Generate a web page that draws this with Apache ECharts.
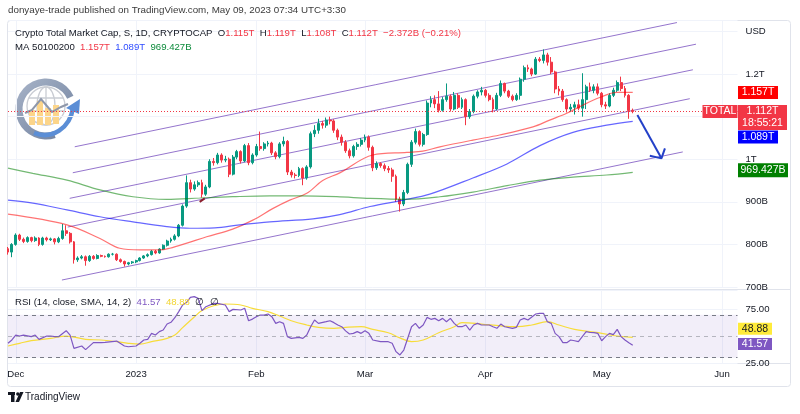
<!DOCTYPE html>
<html>
<head>
<meta charset="utf-8">
<script src="https://cdn.jsdelivr.net/npm/echarts@6/dist/echarts.min.js"></script>
<style>html,body{margin:0;padding:0;background:#fff}#c{width:800px;height:414px}</style>
</head>
<body>
<div id="c"></div>
<script>
// ---------- DATA ----------
const firstDay = [2022, 10, 29];           // Nov 29, 2022 (first candle)
const dayCount = 189;                      // category slots shown on the time axis (to Jun 5)
const monthTickLabels = {12:'Dec', 1:'2023', 2:'Feb', 3:'Mar', 4:'Apr', 5:'May', 6:'Jun'};
const priceTickLabels = {700:'700B', 800:'800B', 900:'900B', 1000:'1T', 1100:'', 1200:'1.2T', 1300:'USD'};

// daily candles, values in billions USD
const opens = [790,782,800,822,812,807,816,809,815,800,815,811,813,806,814,832,826,806,764,768,
771,762,772,767,774,772,771,777,777,764,760,754,757,759,762,768,773,776,784,780,
789,798,808,812,820,845,890,945,930,940,945,918,935,995,992,1010,998,1000,965,1005,
1018,996,1032,992,1010,1030,1025,1036,1038,1015,1006,1036,1042,970,963,962,978,956,982,1060,
1068,1084,1080,1092,1090,1068,1052,1040,1020,1008,1030,1035,1045,1052,1028,980,990,985,978,975,
960,906,895,922,988,1040,1065,1035,1058,1132,1140,1130,1115,1140,1148,1118,1150,1122,1140,1100,
1112,1148,1158,1162,1150,1140,1118,1150,1178,1160,1148,1140,1150,1188,1215,1212,1200,1235,1232,1245,
1228,1205,1165,1160,1140,1118,1122,1128,1120,1140,1170,1162,1170,1155,1128,1125,1150,1162,1180,1166,
1150,1115];
const closes = [782,800,822,812,807,816,809,815,800,815,811,813,806,814,832,826,806,764,768,771,
762,772,767,774,772,771,777,777,764,760,754,757,759,762,768,773,776,784,780,789,
798,808,812,820,845,890,945,930,940,945,918,935,995,992,1010,998,1000,965,1005,1018,
996,1032,992,1010,1030,1025,1036,1038,1015,1006,1036,1042,970,963,962,978,956,982,1060,1068,
1084,1080,1092,1090,1068,1052,1040,1020,1008,1030,1035,1045,1052,1028,980,990,985,978,975,960,
906,895,922,988,1040,1065,1035,1058,1132,1140,1130,1115,1140,1148,1118,1150,1122,1140,1100,1112,
1148,1158,1162,1150,1140,1118,1150,1178,1160,1148,1140,1150,1188,1215,1212,1200,1235,1232,1245,1228,
1205,1165,1160,1140,1118,1122,1128,1120,1140,1170,1162,1170,1155,1128,1125,1150,1162,1180,1166,1150,
1114.4,1112];
const highs = [794,803,826,825,816,819,818,819,817,818,818,816,815,818,848,845,829,808,772,775,
774,775,775,777,776,774,779,780,779,767,762,759,761,764,770,775,779,787,787,791,
800,811,816,824,848,894,962,952,948,950,952,940,1000,1003,1015,1014,1008,1004,1010,1022,
1021,1036,1038,1014,1036,1065,1040,1043,1041,1019,1040,1053,1045,975,968,982,981,986,1065,1080,
1095,1090,1098,1100,1094,1072,1058,1045,1025,1034,1040,1050,1058,1056,1032,995,993,990,984,980,
964,912,928,992,1045,1072,1068,1062,1138,1148,1150,1160,1146,1178,1152,1158,1155,1145,1143,1118,
1152,1162,1170,1165,1155,1145,1156,1185,1180,1163,1152,1155,1192,1220,1222,1215,1240,1240,1258,1250,
1240,1208,1172,1165,1143,1130,1135,1140,1202,1175,1180,1176,1178,1158,1135,1155,1168,1185,1194,1172,
1153,1119];
const lows = [776,770,797,808,803,804,805,806,796,797,807,808,800,803,811,820,802,755,759,765,
750,759,764,765,770,769,769,774,761,757,748,751,754,756,760,766,770,774,777,778,
787,795,804,809,817,842,886,922,926,935,910,914,932,985,988,992,993,958,962,1000,
990,993,986,988,1006,1020,1020,1030,1010,1000,1002,1030,963,957,955,958,939,952,978,1052,
1060,1072,1074,1082,1062,1045,1032,1015,1002,1004,1022,1030,1040,1020,972,975,980,972,968,947,
900,877,890,918,982,1035,1030,1030,1055,1122,1120,1110,1112,1135,1112,1115,1118,1118,1080,1095,
1108,1143,1150,1145,1136,1110,1115,1146,1155,1144,1136,1137,1140,1182,1205,1195,1198,1228,1225,1220,
1200,1155,1150,1135,1110,1112,1105,1115,1100,1118,1158,1155,1150,1122,1118,1122,1146,1158,1160,1145,
1095,1108];

// moving averages (day offset from first candle, value)
const ma50Days = [0,15.2,23.7,28.8,34,39.1,41.7,46.1,51.2,57.9,63.1,68.2,72.6,77,81.1,85.5,94,102.8,106.9,111.3,119.8,126.7,135.3,139.6,144,148.1,152.5,156.9,161];
const ma50Vals = [871,846,814,791,787,787,791,803,818,836,857,884,904,920,950,968,1010,1016,1019,1029,1045,1057,1076,1092,1108,1127,1145,1157,1157];
const ma100Days = [0,6.4,15.2,23.7,32.2,40.9,46.9,53.3,59.7,67.5,78.6,85.5,93.3,101.8,108.7,119.8,128.6,137.1,145.6,154.3,161];
const ma100Vals = [904,897,881,865,853,842,838,839,846,853,860,870,889,904,918,956,989,1032,1063,1080,1089];
const ma200Days = [0,6.4,15.2,23.7,32.2,40.9,49.4,57.9,67.5,75.2,84.7,93.3,102.3,111.3,119.8,128.6,137.1,145.6,154.3,161];
const ma200Vals = [979,967,951,928,912,906,909,912,914,914,912,908,906,912,923,938,951,958,963,969.4];

// drawn parallel channel lines (start / end day offset and value)
const chanStartDay = [17.2,16.7,15.9,15.4,13.9];
const chanStartVal = [1029.3,968.3,908.2,840.8,716.4];
const chanEndDay = [172.4,177.3,176.5,175.7,173.9];
const chanEndVal = [1321,1270.2,1210.1,1142.2,1017.2];
// drawn arrow and small stroke
const arrowDays = [162.2,168.4];  const arrowVals = [1103.8,1002.1];
const headDays = [165.4,168.4,169.3]; const headVals = [1008.2,1002.1,1025.6];
const strokeDays = [49.4,50.7]; const strokeVals = [900,908];

// RSI (14) and its SMA (14)
const rsiDays = [0,1,2,3,4,6,7,8,10,11,12,13,15,16,17,19,20,22,24,25,28,30,31,33,34,35,36,37,38,39,40,41,42,43,44,45,46,47,48,49,50,51,53,54,56,57,58,60,61,62,63,64,65,66,67,68,69,70,71,72,73,75,76,77,78,79,80,82,83,84,85,86,87,88,89,90,91,92,93,94,96,98,99,100,101,102,104,105,106,107,108,109,110,111,112,113,114,115,116,117,118,119,120,121,122,124,125,126,127,128,130,131,132,133,134,136,137,138,139,140,141,142,143,144,145,146,147,148,149,150,151,152,153,154,155,156,157,158,159,160,161];
const rsiVals = [43.4,46.5,51.1,50.2,51.1,49.6,51.1,47.1,50.2,50.2,49.6,49.6,55.2,51.0,38.7,40.9,37.5,44.0,44.0,44.3,45.5,40.9,40.2,40.9,43.4,46.5,47.1,52.7,51.1,54.3,55.8,61.4,63.0,67.3,73.0,79.2,81.5,86.3,87.0,85.4,73.9,77.6,80.7,80.7,79.2,73.0,75.1,74.5,76.1,64.5,66.0,68.3,69.8,69.8,70.8,68.3,62.0,63.6,62.0,49.6,48.0,49.0,48.0,51.1,58.9,65.2,62.0,63.6,64.5,62.7,60.5,58.9,55.0,52.1,52.7,54.3,52.7,55.2,52.7,46.5,44.9,44.9,43.4,35.6,32.5,37.1,58.9,62.0,57.4,60.5,67.6,65.8,66.7,64.5,66.7,63.6,66.7,62.0,58.9,58.9,60.5,55.8,60.5,62.0,60.5,60.5,58.9,57.4,61.4,58.9,57.4,58.3,65.2,66.7,65.2,70.8,71.4,71.4,63.6,62.0,52.7,49.6,44.0,44.0,46.5,45.8,44.9,49.6,54.3,53.5,53.3,52.7,45.8,49.6,52.7,51.5,56.4,49.6,46.5,44.0,41.57];
const smaDays = [0,3,6,11,15,20,24,28,31,34,37,41,43,45,48,50,53,56,60,63,67,70,73,77,80,84,87,91,94,98,101,104,107,111,115,117,122,127,131,135,139,142,146,150,153,157,161];
const smaVals = [40.9,43.4,45.9,48,50.2,47.1,46.5,44.9,43.4,42.7,44.9,48,51.1,58,68,74,78.5,80.1,79.2,76.1,73,68.9,64.5,60.5,58.3,57.4,58.3,58.9,56.4,53.3,48.5,45,46.5,53.3,58.9,62.7,61.4,59.6,58.9,60.5,63.6,60.5,56.4,54.3,52.7,50.2,48.88];

// last values shown in the scale boxes
const lastClose = 1112, lastMA50 = 1157, lastMA100 = 1089, lastMA200 = 969.427, lastRsi = 41.57, lastSma = 48.88;

// ---------- BUILD ----------
const FONT = 'Liberation Sans, Arial, sans-serif';
const FS = 9.6;
const dates = [];
for (let k = 0; k < dayCount; k++) {
  const d = new Date(Date.UTC(firstDay[0], firstDay[1], firstDay[2] + k));
  dates.push(d.toISOString().slice(0, 10));
}
const lastIdx = dayCount - 1;
const isMonthStart = (i, v) => v.slice(8) === '01';
const pairs = (xs, ys) => xs.map((x, i) => [x, ys[i]]);
const candles = opens.map((o, i) => [o, closes[i], lows[i], highs[i]]);

const boxLabel = (txt, color) => ({show: true, position: 'inside', formatter: txt, color: color || '#fff',
  fontSize: 10.5, lineHeight: 12, fontFamily: FONT, fontWeight: 'normal'});
const box = (coord, w, h, dx, dy, bg, txt, fg) => ({coord, symbol: 'rect', symbolSize: [w, h],
  symbolOffset: [dx, dy], itemStyle: {color: bg}, label: boxLabel(txt, fg)});
const tok = (color) => ({fill: color, fontSize: FS, fontFamily: FONT});

const series = [
  {
    type: 'candlestick', name: 'TOTAL', xAxisIndex: 0, yAxisIndex: 0, data: candles,
    barWidth: 2.4, clip: false,
    itemStyle: {color: '#089981', color0: '#f23645', borderColor: '#089981', borderColor0: '#f23645', borderWidth: 1},
    markLine: {silent: true, symbol: ['none', 'none'], animation: false, label: {show: false},
      data: [{yAxis: lastClose, lineStyle: {color: '#f23645', type: [1, 2], width: 1}}]},
    markPoint: {silent: true, animation: false, z: 10, data: [
      box([lastIdx, lastClose], 49, 25, 25, 6, '#f23645', '1.112T\n18:55:21'),
      box([lastIdx, lastClose], 35, 13, -17.5, 0, '#f23645', 'TOTAL')
    ]}
  },
  {type: 'line', name: 'MA50', xAxisIndex: 2, yAxisIndex: 0, data: pairs(ma50Days, ma50Vals), smooth: 0.35,
   showSymbol: false, lineStyle: {color: 'rgba(255,0,0,0.55)', width: 1.2}, z: 3,
   markPoint: {silent: true, animation: false, data: [box([lastIdx, lastMA50], 40, 13, 20.5, 0, '#ff0000', '1.157T')]}},
  {type: 'line', name: 'MA100', xAxisIndex: 2, yAxisIndex: 0, data: pairs(ma100Days, ma100Vals), smooth: 0.35,
   showSymbol: false, lineStyle: {color: 'rgba(0,0,255,0.6)', width: 1.2}, z: 3,
   markPoint: {silent: true, animation: false, data: [box([lastIdx, lastMA100], 40, 13, 20.5, 15.7, '#0000ff', '1.089T')]}},
  {type: 'line', name: 'MA200', xAxisIndex: 2, yAxisIndex: 0, data: pairs(ma200Days, ma200Vals), smooth: 0.35,
   showSymbol: false, lineStyle: {color: 'rgba(0,128,0,0.55)', width: 1.2}, z: 3,
   markPoint: {silent: true, animation: false, data: [box([lastIdx, lastMA200], 50, 14, 25.5, -2, '#008000', '969.427B')]}}
];
chanStartDay.forEach((d, i) => series.push({type: 'line', xAxisIndex: 2, yAxisIndex: 0, showSymbol: false, silent: true, z: 2,
  data: [[d, chanStartVal[i]], [chanEndDay[i], chanEndVal[i]]], lineStyle: {color: '#9575cd', width: 1}}));
series.push({type: 'line', xAxisIndex: 2, yAxisIndex: 0, showSymbol: false, silent: true, z: 4,
  data: pairs(arrowDays, arrowVals), lineStyle: {color: '#2340c8', width: 2}});
series.push({type: 'line', xAxisIndex: 2, yAxisIndex: 0, showSymbol: false, silent: true, z: 4,
  data: pairs(headDays, headVals), lineStyle: {color: '#2340c8', width: 2}});
series.push({type: 'line', xAxisIndex: 2, yAxisIndex: 0, showSymbol: false, silent: true, z: 4,
  data: pairs(strokeDays, strokeVals), lineStyle: {color: '#8b1e2d', width: 2}});
series.push({type: 'line', name: 'RSI', xAxisIndex: 3, yAxisIndex: 1, data: pairs(rsiDays, rsiVals), showSymbol: false,
  lineStyle: {color: '#7e57c2', width: 1.2}, z: 4,
  markArea: {silent: true, itemStyle: {color: 'rgba(126,87,194,0.1)'}, data: [[{yAxis: 30}, {yAxis: 70}]]},
  markLine: {silent: true, symbol: ['none', 'none'], animation: false, label: {show: false},
    data: [{yAxis: 70, lineStyle: {color: '#787b86', type: [4, 4], width: 1}},
           {yAxis: 50, lineStyle: {color: 'rgba(120,123,134,0.5)', type: [4, 4], width: 1}},
           {yAxis: 30, lineStyle: {color: '#787b86', type: [4, 4], width: 1}}]},
  markPoint: {silent: true, animation: false, data: [box([lastIdx, lastRsi], 34, 12, 17.5, -1.3, '#7e57c2', '41.57')]}});
series.push({type: 'line', name: 'RSI SMA', xAxisIndex: 3, yAxisIndex: 1, data: pairs(smaDays, smaVals), showSymbol: false, smooth: 0.4,
  lineStyle: {color: '#f7dc3a', width: 1.2}, z: 3,
  markPoint: {silent: true, animation: false, data: [box([lastIdx, lastSma], 34, 12, 17.5, -8.6, '#ffeb3b', '48.88', '#131722')]}});

const gridLine = {show: true, lineStyle: {color: '#f0f3fa', width: 1}};
const option = {
  animation: false,
  backgroundColor: '#ffffff',
  textStyle: {fontFamily: FONT},
  grid: [
    {left: 8, top: 20, width: 729.5, height: 267},
    {left: 8, top: 290, width: 729.5, height: 73}
  ],
  xAxis: [
    {type: 'category', gridIndex: 0, data: dates, boundaryGap: false, axisLine: {show: false}, axisTick: {show: false},
     axisLabel: {show: false}, splitLine: Object.assign({interval: isMonthStart}, gridLine)},
    {type: 'category', gridIndex: 1, data: dates, boundaryGap: false, axisLine: {show: false}, axisTick: {show: false},
     axisLabel: {interval: isMonthStart, formatter: v => monthTickLabels[+v.slice(5, 7)] || '', color: '#131722', fontSize: FS, margin: 6},
     splitLine: Object.assign({interval: isMonthStart}, gridLine)},
    {type: 'value', gridIndex: 0, min: 0, max: lastIdx, show: false, position: 'top'},
    {type: 'value', gridIndex: 1, min: 0, max: lastIdx, show: false, position: 'top'}
  ],
  yAxis: [
    {type: 'value', gridIndex: 0, position: 'right', min: 700, max: 1327, interval: 100,
     axisLine: {show: false}, axisTick: {show: false}, splitLine: gridLine,
     axisLabel: {formatter: v => priceTickLabels[Math.round(v)] || '', color: '#131722', fontSize: FS, margin: 8, showMaxLabel: false}},
    {type: 'value', gridIndex: 1, position: 'right', min: 25, max: 93.2, interval: 50,
     axisLine: {show: false}, axisTick: {show: false}, splitLine: gridLine,
     axisLabel: {formatter: v => (v === 25 || v === 75) ? v.toFixed(2) : '', color: '#131722', fontSize: FS, margin: 8, showMaxLabel: false}}
  ],
  series: series,
  graphic: [
    {type: 'rect', silent: true, shape: {x: 7.5, y: 20.5, width: 783, height: 366, r: 3}, style: {fill: 'none', stroke: '#e0e3eb', lineWidth: 1}},
    {type: 'line', silent: true, shape: {x1: 7.5, y1: 289.5, x2: 790.5, y2: 289.5}, style: {stroke: '#e0e3eb', lineWidth: 1}},
    {type: 'line', silent: true, shape: {x1: 7.5, y1: 363.5, x2: 790.5, y2: 363.5}, style: {stroke: '#e0e3eb', lineWidth: 1}},
    {type: 'text', silent: true, z: 100, x: 8, y: 10, style: {text: 'donyaye-trade published on TradingView.com, May 09, 2023 07:34 UTC+3:30',
      fill: '#3a3a3a', fontSize: 9.8, fontFamily: FONT, verticalAlign: 'middle'}},
    {type: 'text', silent: true, z: 100, x: 15, y: 33, style: {
      text: '{t|Crypto Total Market Cap, S, 1D, CRYPTOCAP  O}{r|1.115T}{t|  H}{r|1.119T}{t|  L}{r|1.108T}{t|  C}{r|1.112T}{t|  }{r|\u22122.372B (\u22120.21%)}',
      fill: '#131722', fontSize: FS, fontFamily: FONT, verticalAlign: 'middle', rich: {t: tok('#131722'), r: tok('#f23645')}}},
    {type: 'text', silent: true, z: 100, x: 15, y: 47, style: {
      text: '{t|MA 50100200  }{r|1.157T}{t|  }{b|1.089T}{t|  }{g|969.427B}',
      fill: '#131722', fontSize: FS, fontFamily: FONT, verticalAlign: 'middle',
      rich: {t: tok('#131722'), r: tok('#f23645'), b: tok('#2f4cff'), g: tok('#0b8a3a')}}},
    {type: 'text', silent: true, z: 100, x: 15, y: 302, style: {
      text: '{t|RSI (14, close, SMA, 14, 2)  }{p|41.57}{t|  }{y|48.88}{t|  \u2205  \u2205}',
      fill: '#131722', fontSize: FS, fontFamily: FONT, verticalAlign: 'middle',
      rich: {t: tok('#131722'), p: tok('#7e57c2'), y: tok('#f2d530')}}},
    // publisher avatar (decorative)
    {type: 'group', silent: true, children: [
      {type: 'sector', shape: {cx: 46, cy: 109, r0: 23.5, r: 30.5, startAngle: -0.45, endAngle: 1.25, clockwise: false},
       style: {fill: new echarts.graphic.LinearGradient(0, 0, 1, 1, [{offset: 0, color: '#a9b5c9'}, {offset: 1, color: '#6d7e9c'}])}},
      {type: 'circle', shape: {cx: 46, cy: 106, r: 19}, style: {fill: '#ffffff', stroke: '#c9ccd3', lineWidth: 1.3}},
      {type: 'ellipse', shape: {cx: 46, cy: 106, rx: 9, ry: 19}, style: {fill: 'none', stroke: '#c9ccd3', lineWidth: 1.3}},
      {type: 'line', shape: {x1: 46, y1: 87, x2: 46, y2: 125}, style: {stroke: '#c9ccd3', lineWidth: 1.3}},
      {type: 'line', shape: {x1: 29, y1: 98, x2: 63, y2: 98}, style: {stroke: '#c9ccd3', lineWidth: 1.3}},
      {type: 'line', shape: {x1: 27, y1: 111, x2: 65, y2: 111}, style: {stroke: '#c9ccd3', lineWidth: 1.3}},
      {type: 'rect', shape: {x: 29, y: 110, width: 6, height: 15}, style: {fill: '#fcd58a'}},
      {type: 'rect', shape: {x: 37, y: 101, width: 6, height: 24}, style: {fill: '#fcd58a'}},
      {type: 'rect', shape: {x: 45, y: 108, width: 6, height: 17}, style: {fill: '#fcd58a'}},
      {type: 'rect', shape: {x: 53, y: 105, width: 6, height: 19}, style: {fill: '#fcd58a'}},
      {type: 'polyline', shape: {points: [[25, 113], [32, 110], [41, 99], [52, 112], [61, 107], [68, 104]]}, style: {stroke: '#8e97aa', lineWidth: 2, fill: 'none'}},
      {type: 'bezierCurve', shape: {x1: 34, y1: 133, cpx1: 52, cpy1: 140, cpx2: 70, cpy2: 128, x2: 73, y2: 108}, style: {stroke: '#5b8ed6', lineWidth: 4.5, fill: 'none'}},
      {type: 'polygon', shape: {points: [[66, 108], [80, 99], [79, 114]]}, style: {fill: '#5b8ed6'}}
    ]},
    // TradingView mark + wordmark
    {type: 'group', silent: true, children: [
      {type: 'rect', shape: {x: 8, y: 392, width: 7, height: 3}, style: {fill: '#131722'}},
      {type: 'rect', shape: {x: 11, y: 392, width: 3.5, height: 10}, style: {fill: '#131722'}},
      {type: 'circle', shape: {cx: 17.8, cy: 394, r: 1.7}, style: {fill: '#131722'}},
      {type: 'polygon', shape: {points: [[15.5, 402], [19, 402], [23.5, 392], [20, 392]]}, style: {fill: '#131722'}},
      {type: 'text', x: 25, y: 397.5, style: {text: 'TradingView', fill: '#131722', fontSize: 10, fontFamily: FONT, verticalAlign: 'middle'}}
    ]}
  ]
};
const chart = echarts.init(document.getElementById('c'), null, {renderer: 'canvas', width: 800, height: 414});
chart.setOption(option);
</script>
</body>
</html>
